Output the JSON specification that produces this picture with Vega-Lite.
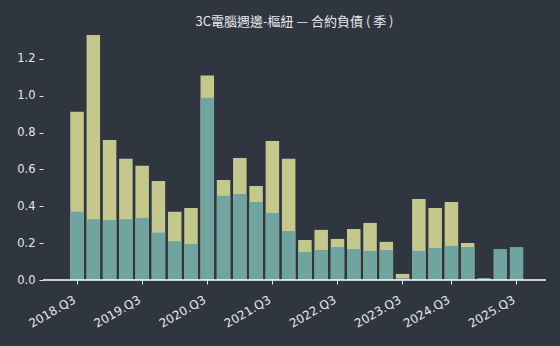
{
  "$schema": "https://vega.github.io/schema/vega-lite/v6.json",
  "width": 503,
  "height": 256,
  "autosize": "none",
  "padding": {"left": 43, "top": 24, "right": 14, "bottom": 66},
  "background": "#2f3640",
  "title": {"text": "3C電腦週邊-樞紐 — 合約負債 ( 季 )", "font": "Noto Sans CJK TC", "fontSize": 13, "fontWeight": "normal", "color": "#e8e8e8", "anchor": "middle", "offset": -5},
  "config": {"view": {"stroke": null}, "axis": {"grid": false, "labelFont": "DejaVu Sans", "labelColor": "#e6e6e6", "labelFontSize": 11.5, "tickColor": "#e6e6e6", "domainColor": "#ffffff"}},
  "layer": [
    {"data": {"name": "bars", "values": [
      {"q": "2018.Q3", "a": 0.913, "b": 0.37},
      {"q": "2018.Q4", "a": 1.33, "b": 0.33},
      {"q": "2019.Q1", "a": 0.76, "b": 0.326},
      {"q": "2019.Q2", "a": 0.658, "b": 0.33},
      {"q": "2019.Q3", "a": 0.62, "b": 0.337},
      {"q": "2019.Q4", "a": 0.538, "b": 0.257},
      {"q": "2020.Q1", "a": 0.37, "b": 0.21},
      {"q": "2020.Q2", "a": 0.391, "b": 0.196},
      {"q": "2020.Q3", "a": 1.11, "b": 0.99},
      {"q": "2020.Q4", "a": 0.543, "b": 0.457},
      {"q": "2021.Q1", "a": 0.663, "b": 0.467},
      {"q": "2021.Q2", "a": 0.511, "b": 0.424},
      {"q": "2021.Q3", "a": 0.755, "b": 0.364},
      {"q": "2021.Q4", "a": 0.658, "b": 0.266},
      {"q": "2022.Q1", "a": 0.217, "b": 0.152},
      {"q": "2022.Q2", "a": 0.272, "b": 0.163},
      {"q": "2022.Q3", "a": 0.223, "b": 0.179},
      {"q": "2022.Q4", "a": 0.277, "b": 0.168},
      {"q": "2023.Q1", "a": 0.31, "b": 0.158},
      {"q": "2023.Q2", "a": 0.207, "b": 0.163},
      {"q": "2023.Q3", "a": 0.033, "b": 0.011},
      {"q": "2023.Q4", "a": 0.44, "b": 0.158},
      {"q": "2024.Q1", "a": null, "b": null},
      {"q": "2024.Q2", "a": 0.391, "b": 0.174},
      {"q": "2024.Q3", "a": 0.424, "b": 0.185},
      {"q": "2024.Q4", "a": 0.201, "b": 0.179},
      {"q": "2025.Q1", "a": null, "b": 0.011},
      {"q": "2025.Q2", "a": null, "b": 0.168},
      {"q": "2025.Q3", "a": null, "b": 0.179}
    ]},
     "layer": [
      {"mark": {"type": "bar", "color": "#c5c88d"},
       "encoding": {
        "x": {"field": "q", "type": "ordinal", "sort": null,
          "scale": {"range": [27.3, 480.3], "paddingInner": 0.17, "paddingOuter": 0},
          "axis": {"title": null, "domain": false, "values": ["2018.Q3", "2019.Q3", "2020.Q3", "2021.Q3", "2022.Q3", "2023.Q3", "2024.Q3", "2025.Q3"], "labelAngle": -30, "labelAlign": "right", "labelBaseline": "top", "labelFontSize": 12, "tickSize": 4, "labelPadding": 10, "labelOffset": -5}},
        "y": {"field": "a", "type": "quantitative", "scale": {"domain": [0, 1.39], "nice": false},
          "axis": {"title": null, "values": [0, 0.2, 0.4, 0.6, 0.8, 1.0, 1.2], "format": ".1f", "domain": false, "tickSize": 4, "labelPadding": 4}}}},
      {"mark": {"type": "bar", "color": "#6fa4a1"},
       "encoding": {
        "x": {"field": "q", "type": "ordinal", "sort": null},
        "y": {"field": "b", "type": "quantitative"}}}
     ]},
    {"data": {"values": [{"z": 0}]},
     "mark": {"type": "rule", "color": "#ffffff", "strokeWidth": 1.5},
     "encoding": {"y": {"field": "z", "type": "quantitative"}}}
  ]
}
